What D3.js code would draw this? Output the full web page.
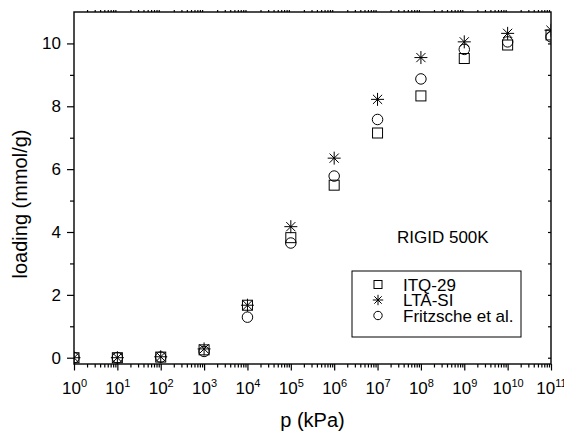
<!DOCTYPE html>
<html>
<head>
<meta charset="utf-8">
<script src="https://cdn.jsdelivr.net/npm/d3@7"></script>
<style>
body { margin: 0; background: #fff; }
text { font-family: Arial, "Liberation Sans", sans-serif; fill: #000; }
</style>
</head>
<body>
<div id="chart-area"></div>
<script>
// pressure points (kPa) and loadings (mmol/g)
var pressures = [1e0, 1e1, 1e2, 1e3, 1e4, 1e5, 1e6, 1e7, 1e8, 1e9, 1e10, 1e11];
var itq29     = [0, 0, 0.02, 0.25, 1.67, 3.82, 5.49, 7.15, 8.33, 9.52, 9.95, 10.27];
var ltaSi     = [0, 0, 0.03, 0.28, 1.67, 4.17, 6.35, 8.22, 9.55, 10.05, 10.32, 10.42];
var fritzsche = [0, 0, 0.02, 0.20, 1.29, 3.65, 5.78, 7.58, 8.87, 9.81, 10.05, 10.21];
var seriesNames = ["ITQ-29", "LTA-SI", "Fritzsche et al."];
var yTicks = [0, 2, 4, 6, 8, 10];
var annotation = "RIGID 500K";

var width = 564, height = 432;
var plot = {left: 74, right: 551, top: 12, bottom: 364};

var svg = d3.select('#chart-area')
  .append('svg')
  .attr('width', width)
  .attr('height', height);

var xScale = d3.scaleLog().domain([1, 1e11]).range([plot.left, plot.right]);
var yScale = d3.scaleLinear().domain([-0.2, 11]).range([plot.bottom, plot.top]);

var decades = d3.range(0, 12).map(function(k) { return Math.pow(10, k); });
var minors = [];
for (var k = 0; k < 11; k++) {
  for (var m = 2; m < 10; m++) minors.push(m * Math.pow(10, k));
}
var yMinor = [1, 3, 5, 7, 9];
var yAll = d3.range(0, 11);

// minor ticks first
svg.append("g")
  .attr("transform", "translate(0," + plot.bottom + ")")
  .call(d3.axisBottom(xScale).tickValues(minors).tickSize(3.5).tickSizeOuter(0).tickFormat(""))
  .call(function(g) { g.select(".domain").remove(); });

svg.append("g")
  .attr("transform", "translate(0," + plot.top + ")")
  .call(d3.axisTop(xScale).tickValues(minors).tickSize(2).tickSizeOuter(0).tickFormat(""))
  .call(function(g) {
    g.select(".domain").remove();
    g.selectAll("line").attr("stroke", "#888");
  });

svg.append("g")
  .attr("transform", "translate(" + plot.left + ",0)")
  .call(d3.axisLeft(yScale).tickValues(yMinor).tickSize(4).tickSizeOuter(0).tickFormat(""))
  .call(function(g) { g.select(".domain").remove(); });

svg.append("g")
  .attr("transform", "translate(" + plot.right + ",0)")
  .call(d3.axisLeft(yScale).tickValues(yAll).tickSize(3).tickSizeOuter(0).tickFormat(""))
  .call(function(g) { g.select(".domain").remove(); });

// major ticks
var xAxis = svg.append("g")
  .attr("transform", "translate(0," + plot.bottom + ")")
  .call(d3.axisBottom(xScale).tickValues(decades).tickSize(6.5).tickSizeOuter(0).tickFormat(""))
  .call(function(g) { g.select(".domain").remove(); });

var yAxis = svg.append("g")
  .attr("transform", "translate(" + plot.left + ",0)")
  .call(d3.axisLeft(yScale).tickValues(yTicks).tickSize(7).tickPadding(6).tickSizeOuter(0))
  .call(function(g) { g.select(".domain").remove(); });

svg.selectAll(".tick line").attr("stroke", "#000").attr("stroke-width", 1.2);
yAxis.selectAll(".tick text")
  .attr("font-size", "17px")
  .attr("font-family", "Arial, 'Liberation Sans', sans-serif");

// 10^k labels
xAxis.selectAll(".tick").each(function(d) {
  var t = d3.select(this).append("text")
    .attr("y", 30)
    .attr("text-anchor", "middle")
    .attr("font-size", "17px")
    .attr("fill", "#000");
  t.append("tspan").text("10");
  t.append("tspan").attr("dy", -7.5).attr("font-size", "11px")
    .text(Math.round(Math.log10(d)));
});

// frame
svg.append("rect")
  .attr("x", plot.left).attr("y", plot.top)
  .attr("width", plot.right - plot.left).attr("height", plot.bottom - plot.top)
  .attr("fill", "none").attr("stroke", "#000").attr("stroke-width", 1.4);

// axis titles
svg.append("text")
  .attr("x", (plot.left + plot.right) / 2).attr("y", 427)
  .attr("text-anchor", "middle").attr("font-size", "20px")
  .text("p (kPa)");

svg.append("text")
  .attr("transform", "translate(27," + 204 + ") rotate(-90)")
  .attr("text-anchor", "middle").attr("font-size", "20px")
  .text("loading (mmol/g)");

// marker shapes
function drawSymbol(g, kind, s) {
  if (kind === "square") {
    g.append("rect").attr("x", -s / 2).attr("y", -s / 2).attr("width", s).attr("height", s)
      .attr("fill", "none").attr("stroke", "#000").attr("stroke-width", 1);
  } else if (kind === "circle") {
    g.append("circle").attr("r", s / 2)
      .attr("fill", "none").attr("stroke", "#000").attr("stroke-width", 1);
  } else {
    var r = s / 2, d = r * Math.SQRT1_2;
    var p = "M0," + (-r) + "V" + r + "M" + (-r) + ",0H" + r +
      "M" + (-d) + "," + (-d) + "L" + d + "," + d + "M" + (-d) + "," + d + "L" + d + "," + (-d);
    g.append("path").attr("d", p).attr("fill", "none").attr("stroke", "#000").attr("stroke-width", 1);
  }
}

var series = [
  {name: seriesNames[0], kind: "square", values: itq29, size: 10},
  {name: seriesNames[1], kind: "star", values: ltaSi, size: 13},
  {name: seriesNames[2], kind: "circle", values: fritzsche, size: 10.5}
];

svg.append("clipPath").attr("id", "clip")
  .append("rect")
  .attr("x", plot.left).attr("y", plot.top)
  .attr("width", plot.right - plot.left).attr("height", plot.bottom - plot.top);

var marks = svg.append("g").attr("clip-path", "url(#clip)");
series.forEach(function(s) {
  marks.selectAll(null)
    .data(s.values.map(function(v, i) { return {p: pressures[i], v: v}; }))
    .enter().append("g")
    .attr("transform", function(d) { return "translate(" + xScale(d.p) + "," + yScale(d.v) + ")"; })
    .each(function() { drawSymbol(d3.select(this), s.kind, s.size); });
});

// annotation
svg.append("text")
  .attr("x", 397).attr("y", 243)
  .attr("font-size", "17px")
  .text(annotation);

// legend
var legend = svg.append("g");
legend.append("rect")
  .attr("x", 352).attr("y", 271).attr("width", 169).attr("height", 66)
  .attr("fill", "#fff").attr("stroke", "#000").attr("stroke-width", 1);

series.forEach(function(s, i) {
  var row = legend.append("g").attr("transform", "translate(0," + (284.5 + i * 15.5) + ")");
  drawSymbol(row.append("g").attr("transform", "translate(378,0)"), s.kind, s.size * 0.8);
  row.append("text").attr("x", 403).attr("y", 6).attr("font-size", "17px").text(s.name);
});
</script>
</body>
</html>
